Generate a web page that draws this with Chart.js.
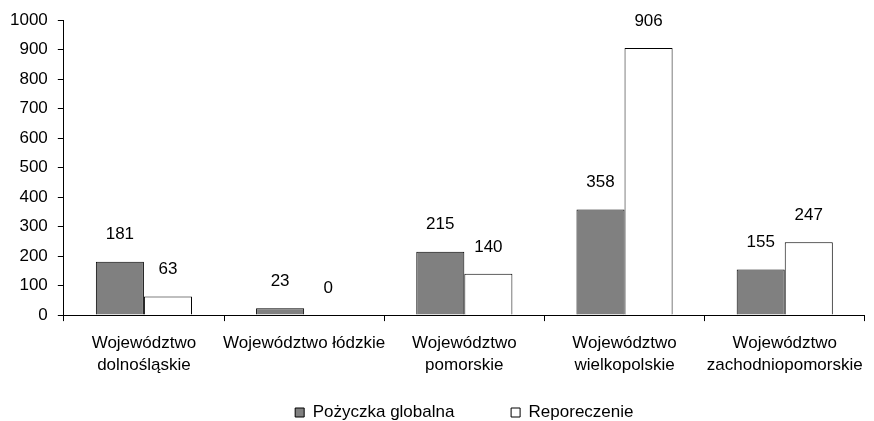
<!DOCTYPE html>
<html>
<head>
<meta charset="utf-8">
<script src="https://cdn.jsdelivr.net/npm/chart.js@4/dist/chart.umd.min.js"></script>
<style>
  html, body { margin: 0; padding: 0; background: #fff; }
  #wrap { width: 874px; height: 421px; }
</style>
</head>
<body>
<div id="wrap"><canvas id="barChart"></canvas></div>
<script>
var categories = [
  ["Województwo", "dolnośląskie"],
  "Województwo łódzkie",
  ["Województwo", "pomorskie"],
  ["Województwo", "wielkopolskie"],
  ["Województwo", "zachodniopomorskie"],
];
var pozyczka = [181, 23, 215, 358, 155];
var reporeczenie = [63, 0, 140, 906, 247];
var yTicks = [0, 100, 200, 300, 400, 500, 600, 700, 800, 900, 1000];

var FONT = "'Liberation Sans', Arial, sans-serif";

// value labels above bars
var valueLabels = {
  id: "valueLabels",
  afterLayout: function (chart) {
    // legend is centred under the plot area and sits a bit lower
    if (chart.legend) {
      var shift = (chart.chartArea.left + chart.chartArea.right) / 2 - (chart.legend.left + chart.legend.right) / 2;
      chart.legend.left += shift;
      chart.legend.right += shift;
      chart.legend.top += 10;
      chart.legend.bottom += 10;
    }
  },
  afterDatasetsDraw: function (chart) {
    var ctx = chart.ctx;
    ctx.save();
    ctx.font = "17px " + FONT;
    ctx.fillStyle = "#000";
    ctx.textAlign = "center";
    ctx.textBaseline = "middle";
    chart.data.datasets.forEach(function (ds, i) {
      chart.getDatasetMeta(i).data.forEach(function (bar, j) {
        ctx.fillText(ds.data[j], bar.x, bar.y - 27);
      });
    });
    ctx.restore();
  },
};

var ctx = document.getElementById("barChart").getContext("2d");
var myChart = new Chart(ctx, {
  type: "bar",
  data: {
    labels: categories,
    datasets: [
      {
        label: "Pożyczka globalna",
        data: pozyczka,
        backgroundColor: "#808080",
        borderColor: "#000",
        borderWidth: 1,
        categoryPercentage: 0.6,
        barPercentage: 1,
      },
      {
        label: "Reporeczenie",
        data: reporeczenie,
        backgroundColor: "#fff",
        borderColor: "#000",
        borderWidth: 1,
        categoryPercentage: 0.6,
        barPercentage: 1,
      },
    ],
  },
  options: {
    responsive: true,
    maintainAspectRatio: false,
    animation: false,
    layout: { padding: { top: 10, right: 3, left: 0, bottom: 0 } },
    plugins: {
      tooltip: { enabled: false },
      legend: {
        position: "bottom",
        labels: {
          boxWidth: 9,
          boxHeight: 9,
          padding: 0,
          color: "#000",
          font: { family: FONT, size: 17 },
          generateLabels: function (chart) {
            var items = Chart.defaults.plugins.legend.labels.generateLabels(chart);
            // wider gap between the two entries
            items[0].text = items[0].text + "\u00a0".repeat(12);
            return items;
          },
        },
      },
    },
    scales: {
      x: {
        grid: { drawOnChartArea: false, tickLength: 6, color: "#000" },
        border: { color: "#000" },
        afterFit: function (scale) { scale.height += 6; },
        ticks: {
          maxRotation: 0,
          autoSkip: false,
          padding: 11,
          color: "#000",
          font: { family: FONT, size: 17, lineHeight: 1.32 },
        },
      },
      y: {
        min: 0,
        max: 1000,
        afterBuildTicks: function (axis) {
          axis.ticks = yTicks.map(function (v) { return { value: v }; });
        },
        grid: { drawOnChartArea: false, tickLength: 6, color: "#000" },
        border: { color: "#000" },
        ticks: {
          padding: 10,
          color: "#000",
          font: { family: FONT, size: 17 },
          callback: function (v) { return String(v); },
        },
      },
    },
  },
  plugins: [valueLabels],
});
</script>
</body>
</html>
